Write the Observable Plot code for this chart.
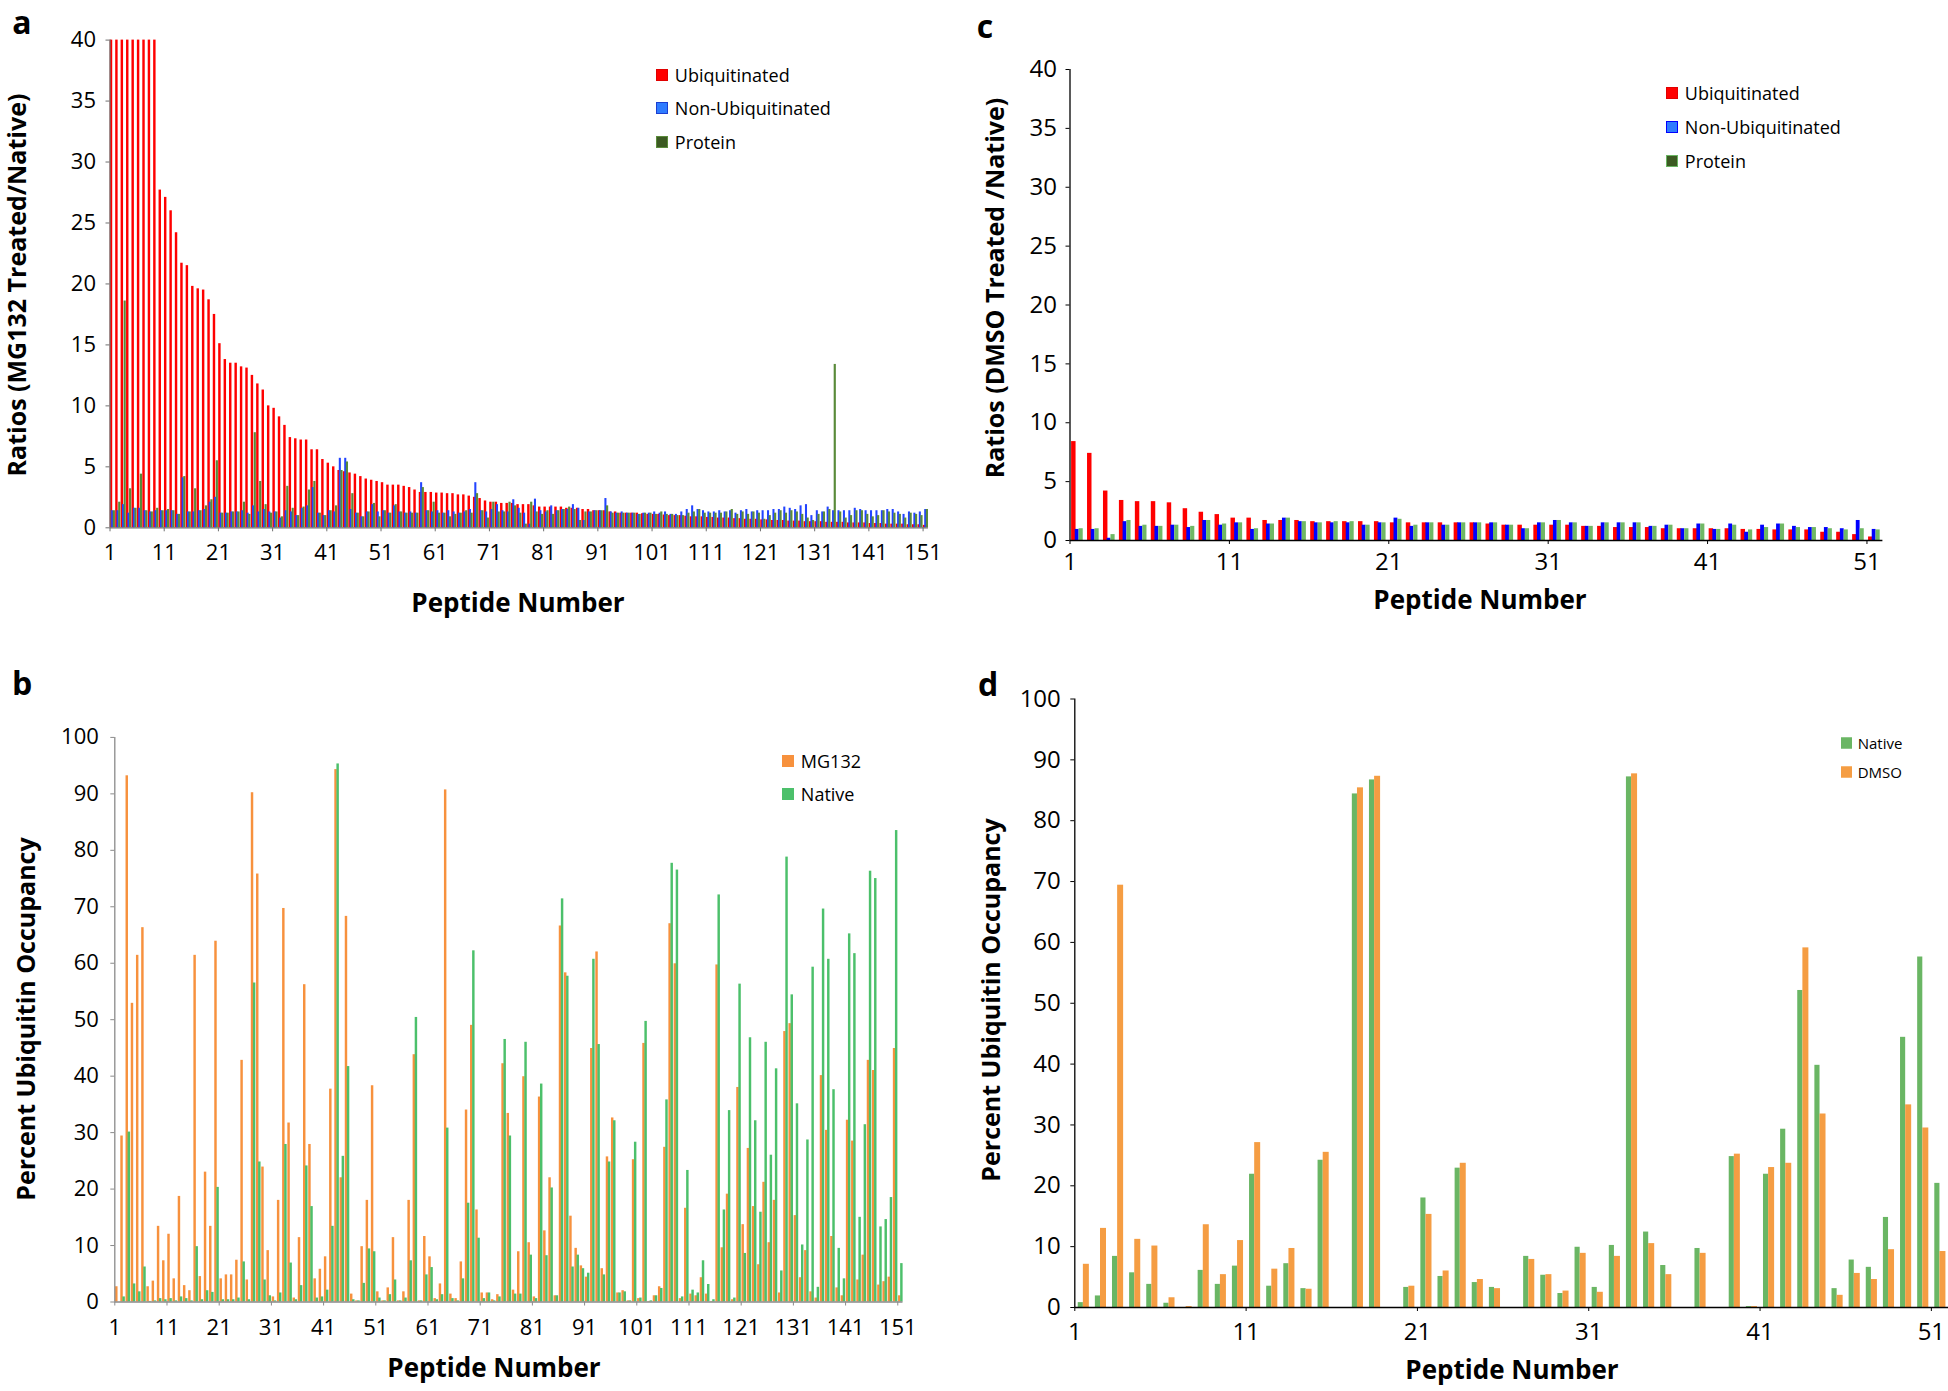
<!DOCTYPE html>
<html><head><meta charset="utf-8">
<script src="https://cdn.jsdelivr.net/npm/d3@7"></script>
<script src="https://cdn.jsdelivr.net/npm/@observablehq/plot@0.6"></script>
<style>
html,body{margin:0;padding:0;background:#fff;}
#page{position:relative;width:1948px;height:1391px;overflow:hidden;font-family:"Open Sans",sans-serif;color:#000;}
.t{position:absolute;white-space:nowrap;transform:translate(-50%,-50%);line-height:1.2;}
.b{font-weight:700;}
.rot{transform:translate(-50%,-50%) rotate(-90deg);}
.leg{position:absolute;white-space:nowrap;transform:translateY(-50%);display:flex;align-items:center;line-height:1;}
.sw{display:inline-block;box-sizing:border-box;border:1.5px solid;}
</style></head>
<body><div id="page"></div>
<script>
// ---------- tick labels ----------
const peptideTicksAB = [1,11,21,31,41,51,61,71,81,91,101,111,121,131,141,151];
const peptideTicksCD = [1,11,21,31,41,51];
const ratioTicks = [0,5,10,15,20,25,30,35,40];
const occupancyTicks = [0,10,20,30,40,50,60,70,80,90,100];

// ---------- panel a : MG132 treated / native ratios (151 peptides) ----------
const aUbiquitinated = [40,40,40,40,40,40,40,40,40,27.7,27.1,26.0,24.2,21.7,21.5,19.8,19.6,19.5,18.7,17.5,
15.1,13.8,13.5,13.5,13.2,13.1,12.5,11.8,11.3,10.0,9.8,9.1,8.4,7.4,7.3,7.2,7.2,6.4,6.4,5.6,
5.3,5.0,4.7,4.6,4.5,4.4,4.2,4.0,3.9,3.8,3.7,3.5,3.5,3.5,3.4,3.3,3.1,2.9,2.9,2.9,
2.85,2.85,2.8,2.8,2.7,2.7,2.6,2.5,2.4,2.2,2.1,2.1,2.0,2.0,2.0,1.9,1.9,1.9,1.8,1.7,
1.7,1.7,1.7,1.7,1.6,1.6,1.6,1.5,1.5,1.4,1.4,1.4,1.3,1.3,1.2,1.2,1.2,1.2,1.15,1.1,
1.1,1.1,1.05,1.0,1.0,1.0,0.95,0.9,0.9,0.9,0.85,0.85,0.8,0.8,0.8,0.75,0.75,0.7,0.7,0.7,
0.65,0.65,0.6,0.6,0.6,0.55,0.55,0.55,0.5,0.5,0.5,0.5,0.45,0.45,0.45,0.45,0.4,0.4,0.4,0.4,
0.35,0.35,0.35,0.3,0.3,0.3,0.3,0.25,0.25,0.25,0.2];
const aNonUbiquitinated = [1.4,1.4,1.9,1.2,1.6,1.6,1.4,1.3,1.4,1.4,1.4,1.4,1.1,4.1,1.3,1.3,1.4,1.5,2.1,2.5,
1.2,1.2,1.3,1.3,1.4,1.2,1.8,1.3,1.5,1.3,1.3,0.8,1.4,1.3,1.0,1.6,1.8,3.3,1.2,1.0,
1.4,1.3,5.7,5.7,1.5,1.2,0.9,1.3,1.9,1.3,1.4,1.2,1.8,1.3,1.2,1.3,1.2,3.7,1.4,1.3,
1.4,1.2,1.4,1.3,1.2,1.3,1.5,3.7,1.4,1.3,1.5,1.9,1.4,1.3,2.3,1.6,1.2,0.3,2.35,1.4,
1.3,1.8,1.4,1.5,1.5,1.9,1.6,0.6,1.3,1.4,1.4,2.4,1.3,1.2,1.3,1.2,1.2,1.1,1.2,1.2,
1.3,1.2,1.3,1.1,1.1,1.3,1.5,1.8,1.5,1.4,1.3,1.3,1.4,1.3,1.4,1.2,1.4,1.5,1.3,1.4,
1.4,1.4,1.5,1.5,1.7,1.6,1.5,1.8,1.9,1.0,1.4,1.3,1.7,1.4,1.4,1.4,1.4,1.6,1.5,1.4,
1.4,1.4,1.4,1.5,1.5,1.3,1.1,1.3,1.2,1.3,1.5];
const aProtein = [1.4,2.1,18.6,3.2,1.6,4.4,1.4,1.3,1.6,1.4,1.5,1.4,1.1,4.2,1.3,3.2,1.4,1.8,2.3,5.5,
1.2,1.2,1.3,1.3,2.1,1.1,7.8,3.8,1.9,1.2,1.3,0.9,3.4,1.6,1.0,1.7,3.1,3.8,1.2,1.0,
1.4,1.8,4.7,5.4,2.8,1.2,0.9,1.3,2.0,0.9,1.4,1.2,1.9,1.3,1.2,1.2,1.2,3.3,1.4,2.1,
1.2,1.2,0.9,1.1,1.2,1.4,1.2,2.8,1.4,0.8,2.1,1.3,1.3,2.1,1.8,1.2,0.3,2.1,1.3,1.1,
1.4,1.1,1.4,1.5,1.7,1.5,0.6,1.3,1.3,1.4,1.4,1.8,1.2,1.2,1.2,1.2,1.2,1.1,1.2,1.2,
1.1,1.3,1.1,1.1,1.0,1.0,1.2,1.3,1.5,1.2,1.2,1.2,1.2,1.3,1.5,1.1,1.3,1.1,1.3,1.2,
0.7,1.0,1.2,1.4,1.2,1.4,1.3,1.1,0.8,0.6,1.1,1.3,1.5,13.4,1.3,0.8,1.0,1.4,1.4,1.1,
0.9,1.0,1.4,1.3,1.2,1.1,0.8,1.2,1.1,1.0,1.5];

// ---------- panel b : percent ubiquitin occupancy (151 peptides) ----------
const bMG132 = [2.7,29.4,93.2,52.9,61.4,66.3,2.7,3.7,13.4,7.3,12.0,4.1,18.7,2.9,2.0,61.4,4.5,23.0,13.4,63.9,
4.1,4.8,4.8,7.4,42.8,3.9,90.2,75.8,23.9,9.1,0.9,18.0,69.7,31.7,0.7,11.4,56.2,27.9,4.1,5.8,
8.0,37.7,94.3,22.0,68.3,1.4,0.2,9.8,18.0,38.3,1.8,0.2,2.5,11.4,0.2,1.8,18.0,43.8,0.2,11.6,
8.0,0.6,3.2,90.7,1.4,0.6,7.1,34.0,49.0,16.3,1.6,1.6,0.4,1.3,42.2,33.4,2.1,8.9,39.9,10.5,
0.9,36.3,12.6,22.0,1.1,66.6,58.3,15.2,9.5,6.4,4.4,44.9,62.0,5.9,25.7,32.6,1.6,2.0,0.2,25.2,
0.6,45.8,0.1,1.1,2.7,27.4,67.0,59.9,0.6,16.6,1.4,1.1,4.3,1.4,0.1,59.7,9.6,19.1,0.4,38.0,
13.7,27.2,16.9,6.6,21.2,10.5,18.0,1.6,47.9,49.3,15.3,4.3,9.1,1.8,0.7,40.1,30.4,11.6,2.5,1.1,
32.2,28.5,3.9,8.3,42.8,41.0,3.0,3.6,4.4,44.9,1.1];
const bNative = [0,0.9,30.1,3.2,1.8,6.2,0.1,0.2,0.6,0.4,0.6,0.2,0.9,0.6,0.2,9.8,0.4,2.0,1.7,20.3,
0.4,0.4,0.4,0.7,7.1,0.4,56.5,24.8,3.9,1.1,0.2,1.6,27.9,6.9,0.4,2.9,24.1,16.9,0.7,0.9,
2.1,13.4,95.3,25.8,41.7,0.4,0.2,3.3,9.4,8.9,0.7,0.2,1.3,3.9,0.2,0.7,7.3,50.4,0.2,4.8,
6.1,0.4,1.3,30.8,0.6,0.2,4.1,17.5,62.2,11.3,0.6,1.6,0.2,0.9,46.5,29.4,1.4,1.4,46.0,8.3,
0.6,38.6,8.2,20.2,1.1,71.4,57.7,6.2,8.3,5.9,5.1,60.7,45.6,4.8,24.8,32.1,1.6,1.8,0.2,28.3,
0.7,49.7,0.2,1.1,2.4,35.8,77.7,76.5,0.9,23.3,2.1,1.6,7.3,3.1,0.4,72.1,16.3,33.9,0.7,56.3,
8.6,46.8,32.1,15.9,46.0,26.0,41.3,5.5,78.8,54.4,35.1,10.1,28.7,59.3,2.6,69.6,60.7,37.6,9.5,4.1,
65.2,61.7,15.0,31.4,76.3,75.0,13.3,14.6,18.5,83.5,6.8];

// ---------- panel c : DMSO treated / native ratios (51 peptides) ----------
const cUbiquitinated = [8.4,7.4,4.2,3.4,3.3,3.3,3.2,2.7,2.4,2.2,1.9,1.9,1.7,1.7,1.7,1.6,1.6,1.6,1.6,1.6,
1.5,1.5,1.5,1.5,1.5,1.5,1.4,1.3,1.3,1.3,1.3,1.3,1.2,1.2,1.1,1.1,1.1,1.0,1.0,1.0,
1.0,1.0,0.94,0.94,0.9,0.9,0.9,0.7,0.7,0.5,0.3];
const cNonUbiquitinated = [0.94,0.94,0.19,1.6,1.2,1.2,1.3,1.1,1.7,1.3,1.5,0.94,1.4,1.9,1.6,1.5,1.5,1.5,1.3,1.5,
1.9,1.2,1.5,1.3,1.5,1.5,1.5,1.3,1.0,1.5,1.7,1.5,1.2,1.5,1.5,1.5,1.2,1.3,1.0,1.4,
0.94,1.4,0.7,1.3,1.4,1.2,1.1,1.1,1.0,1.7,0.94];
const cProtein = [1.0,1.0,0.5,1.7,1.3,1.2,1.3,1.2,1.7,1.4,1.5,1.0,1.4,1.9,1.6,1.5,1.6,1.6,1.3,1.5,
1.8,1.3,1.5,1.3,1.5,1.5,1.5,1.3,1.0,1.5,1.7,1.5,1.2,1.5,1.5,1.5,1.2,1.3,1.0,1.4,
0.94,1.3,0.9,1.1,1.4,1.1,1.1,1.0,0.9,1.0,0.9];

// ---------- panel d : percent ubiquitin occupancy (51 peptides) ----------
const dNative = [0.8,1.9,8.4,5.7,3.8,0.7,0,6.1,3.8,6.8,21.9,3.5,7.2,3.1,24.2,0,84.4,86.7,0,3.3,
18.0,5.1,22.9,4.1,3.3,0,8.4,5.3,2.3,9.9,3.3,10.2,87.2,12.4,6.9,0,9.7,0,24.8,0.15,
21.9,29.3,52.1,39.8,3.1,7.8,6.6,14.8,44.4,57.6,20.4];
const dDMSO = [7.1,13.0,69.4,11.2,10.1,1.6,0.15,13.6,5.4,11.0,27.1,6.3,9.7,3.0,25.5,0,85.4,87.3,0,3.5,
15.3,6.0,23.7,4.6,3.1,0,7.9,5.4,2.7,8.9,2.5,8.4,87.7,10.5,5.4,0,8.9,0,25.2,0.15,
23.0,23.7,59.1,31.8,2.0,5.6,4.6,9.5,33.3,29.5,9.2];

const page = document.getElementById("page");

function panel(o) {
  const marginLeft = o.x0 - o.left, marginRight = o.left + o.width - o.x1;
  const marginTop = o.yTop - o.top, marginBottom = o.top + o.height - o.y0;
  const marks = o.series.map(s => Plot.rect(
    s.values.map((v, i) => ({peptide: i + 1, value: v})),
    {x1: d => d.peptide + s.off[0], x2: d => d.peptide + s.off[1], y1: 0, y2: "value", fill: s.color}
  ));
  marks.push(Plot.axisY(o.yTicks, {tickSize: 4, tickPadding: o.yPad, fontSize: o.fs, stroke: o.axis, fill: "#000", label: null}));
  marks.push(Plot.axisX(o.xTicks, {tickSize: 4, tickPadding: o.xPad, fontSize: o.fs, stroke: o.axis, fill: "#000", label: null}));
  marks.push(Plot.ruleY([0], {stroke: o.axis, strokeWidth: 1.3}));
  marks.push(Plot.ruleX([o.xDomain[0]], {stroke: o.axis, strokeWidth: 1.3}));
  const svg = Plot.plot({
    width: o.width, height: o.height, marginLeft, marginRight, marginTop, marginBottom,
    x: {type: "linear", domain: o.xDomain},
    y: {type: "linear", domain: o.yDomain},
    style: {fontFamily: "'Open Sans', sans-serif", fontSize: o.fs + "px", background: "transparent", overflow: "visible", color: "#000"},
    marks
  });
  svg.style.position = "absolute";
  svg.style.left = o.left + "px";
  svg.style.top = o.top + "px";
  svg.style.maxWidth = "none";
  page.appendChild(svg);
}

function text(str, x, y, size, cls) {
  const d = document.createElement("div");
  d.className = "t " + (cls || "");
  d.style.left = x + "px"; d.style.top = y + "px"; d.style.fontSize = size + "px";
  d.textContent = str;
  page.appendChild(d);
}
function legend(items, x, ys, sw, size) {
  items.forEach((it, i) => {
    const row = document.createElement("div");
    row.className = "leg";
    row.style.left = x + "px"; row.style.top = ys[i] + "px"; row.style.fontSize = size + "px";
    const s = document.createElement("span");
    s.className = "sw";
    s.style.width = sw + "px"; s.style.height = sw + "px";
    s.style.background = it.fill; s.style.borderColor = it.border;
    s.style.marginRight = (size * 0.38) + "px";
    row.appendChild(s);
    row.appendChild(document.createTextNode(it.label));
    page.appendChild(row);
  });
}

// panel a
panel({left: 0, top: 0, width: 974, height: 640, x0: 109.5, x1: 928, yTop: 39.6, y0: 527.3,
  xDomain: [1, 152], yDomain: [0, 40], xTicks: peptideTicksAB, yTicks: ratioTicks,
  fs: 22, xPad: 13, yPad: 10, axis: "#6f6f6f",
  series: [
    {values: aUbiquitinated, color: "#ff0000", off: [0.05, 0.5]},
    {values: aNonUbiquitinated, color: "#2244ff", off: [0.3, 0.68]},
    {values: aProtein, color: "#5a8a3a", off: [0.6, 1.0]}
  ]});
// panel b
panel({left: 0, top: 640, width: 974, height: 751, x0: 114.3, x1: 902.5, yTop: 736.9, y0: 1301.5,
  xDomain: [1, 152], yDomain: [0, 100], xTicks: peptideTicksAB, yTicks: occupancyTicks,
  fs: 22, xPad: 13, yPad: 12, axis: "#8a8a8a",
  series: [
    {values: bMG132, color: "#f7913d", off: [0.15, 0.62]},
    {values: bNative, color: "#4cc06b", off: [0.55, 1.02]}
  ]});
// panel c
panel({left: 974, top: 0, width: 974, height: 640, x0: 1069.5, x1: 1882.4, yTop: 69, y0: 540,
  xDomain: [1, 52], yDomain: [0, 40], xTicks: peptideTicksCD, yTicks: ratioTicks,
  fs: 24, xPad: 8, yPad: 9, axis: "#000",
  series: [
    {values: cUbiquitinated, color: "#ff0000", off: [0.1, 0.38]},
    {values: cNonUbiquitinated, color: "#0000ff", off: [0.33, 0.57]},
    {values: cProtein, color: "#70b865", off: [0.57, 0.83]}
  ]});
// panel d
panel({left: 974, top: 640, width: 974, height: 751, x0: 1074.3, x1: 1948, yTop: 698.5, y0: 1307,
  xDomain: [1, 52], yDomain: [0, 100], xTicks: peptideTicksCD, yTicks: occupancyTicks,
  fs: 24, xPad: 11, yPad: 10, axis: "#000",
  series: [
    {values: dNative, color: "#6ab664", off: [0.2, 0.5]},
    {values: dDMSO, color: "#f59d43", off: [0.5, 0.85]}
  ]});

// panel letters
text("a", 22, 22, 32, "b");
text("b", 22, 683, 32, "b");
text("c", 985, 26, 32, "b");
text("d", 988, 684, 32, "b");
// axis titles
text("Ratios (MG132 Treated/Native)", 16, 285, 25, "b rot");
text("Peptide Number", 518, 603, 26, "b");
text("Percent Ubiquitin Occupancy", 25, 1019, 25, "b rot");
text("Peptide Number", 494, 1368, 26, "b");
text("Ratios (DMSO Treated /Native)", 994, 288, 25, "b rot");
text("Peptide Number", 1480, 600, 26, "b");
text("Percent Ubiquitin Occupancy", 990, 1000, 25, "b rot");
text("Peptide Number", 1512, 1370, 26, "b");

// legends
legend([
  {label: "Ubiquitinated", fill: "#ff0000", border: "#e00000"},
  {label: "Non-Ubiquitinated", fill: "#2f7bff", border: "#1b3ed1"},
  {label: "Protein", fill: "#3c5a22", border: "#5b8c3b"}
], 656, [75, 108, 142], 12, 18);
legend([
  {label: "MG132", fill: "#f7913d", border: "#f7913d"},
  {label: "Native", fill: "#4cc06b", border: "#4cc06b"}
], 782, [761, 794], 12, 18);
legend([
  {label: "Ubiquitinated", fill: "#ff0000", border: "#e00000"},
  {label: "Non-Ubiquitinated", fill: "#2f7bff", border: "#0000ff"},
  {label: "Protein", fill: "#3c5a22", border: "#6ab562"}
], 1666, [93, 127, 161], 12, 18);
legend([
  {label: "Native", fill: "#6ab664", border: "#6ab664"},
  {label: "DMSO", fill: "#f59d43", border: "#f59d43"}
], 1841, [743, 772], 11, 15);
</script></body></html>
